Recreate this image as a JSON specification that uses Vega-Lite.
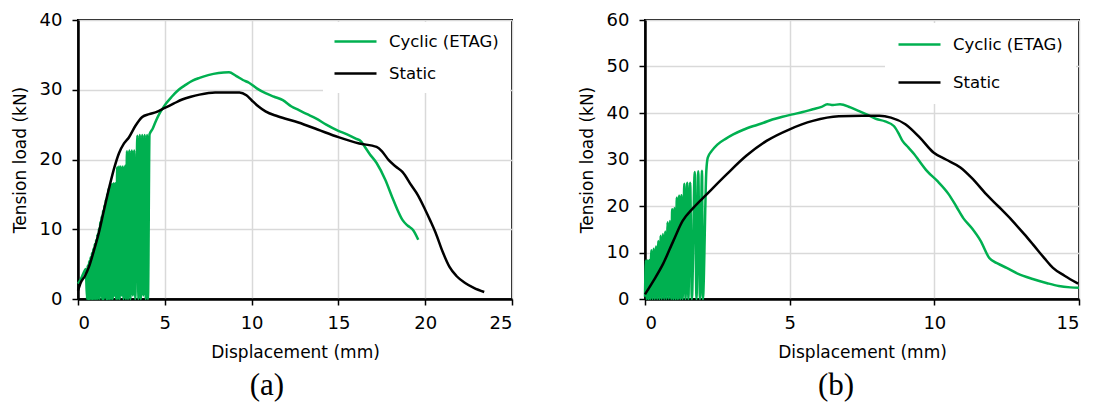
{
  "$schema": "https://vega.github.io/schema/vega-lite/v6.json",
  "padding": {"left": 10, "top": 10, "right": 5, "bottom": 5},
  "spacing": 63,
  "config": {
    "font": "DejaVu Sans",
    "view": {"stroke": "black", "strokeWidth": 2},
    "axis": {"domainColor": "black", "domainWidth": 2.5, "tickColor": "black", "tickWidth": 1.5, "tickSize": 6, "gridColor": "#d9d9d9", "gridWidth": 1.5, "labelFont": "DejaVu Sans", "labelFontSize": 18, "labelColor": "black", "titleFont": "DejaVu Sans", "titleFontSize": 17, "titleFontWeight": "normal", "titleColor": "black"},
    "axisX": {"labelPadding": 9, "titlePadding": 12},
    "axisY": {"labelPadding": 10, "titlePadding": 10},
    "title": {"font": "Liberation Serif", "fontSize": 31, "fontWeight": "normal", "orient": "bottom", "offset": 11, "dx": 5, "color": "black", "frame": "bounds"},
    "legend": {"title": null, "orient": "top-right", "fillColor": "white", "symbolType": "M-3,0H3", "symbolSize": 196, "symbolOffset": 13, "symbolStrokeWidth": 2.5, "labelFont": "DejaVu Sans", "labelFontSize": 16.5, "labelColor": "black", "labelOffset": 25}
  },
  "resolve": {"scale": {"color": "independent", "x": "independent", "y": "independent"}, "legend": {"color": "independent"}},
  "datasets": {
    "a": [
      {"s": "Cyclic (ETAG)", "x": 0, "y": 2.2}, {"s": "Cyclic (ETAG)", "x": 0.15, "y": 2.8}, {"s": "Cyclic (ETAG)", "x": 0.3, "y": 3.6}, {"s": "Cyclic (ETAG)", "x": 0.45, "y": 4.3},
      {"s": "Cyclic (ETAG)", "x": 0.52, "y": 0}, {"s": "Cyclic (ETAG)", "x": 0.56, "y": 4.8}, {"s": "Cyclic (ETAG)", "x": 0.6, "y": 0}, {"s": "Cyclic (ETAG)", "x": 0.64, "y": 5.4},
      {"s": "Cyclic (ETAG)", "x": 0.68, "y": 0}, {"s": "Cyclic (ETAG)", "x": 0.72, "y": 6.0}, {"s": "Cyclic (ETAG)", "x": 0.76, "y": 0}, {"s": "Cyclic (ETAG)", "x": 0.8, "y": 6.6},
      {"s": "Cyclic (ETAG)", "x": 0.84, "y": 0}, {"s": "Cyclic (ETAG)", "x": 0.88, "y": 7.2}, {"s": "Cyclic (ETAG)", "x": 0.92, "y": 0}, {"s": "Cyclic (ETAG)", "x": 0.96, "y": 7.9},
      {"s": "Cyclic (ETAG)", "x": 1.0, "y": 0}, {"s": "Cyclic (ETAG)", "x": 1.04, "y": 8.5}, {"s": "Cyclic (ETAG)", "x": 1.08, "y": 0}, {"s": "Cyclic (ETAG)", "x": 1.12, "y": 9.3},
      {"s": "Cyclic (ETAG)", "x": 1.16, "y": 0}, {"s": "Cyclic (ETAG)", "x": 1.2, "y": 10.1}, {"s": "Cyclic (ETAG)", "x": 1.24, "y": 0}, {"s": "Cyclic (ETAG)", "x": 1.28, "y": 11.0},
      {"s": "Cyclic (ETAG)", "x": 1.32, "y": 0.5}, {"s": "Cyclic (ETAG)", "x": 1.36, "y": 11.8}, {"s": "Cyclic (ETAG)", "x": 1.4, "y": 0}, {"s": "Cyclic (ETAG)", "x": 1.44, "y": 12.6},
      {"s": "Cyclic (ETAG)", "x": 1.48, "y": 0}, {"s": "Cyclic (ETAG)", "x": 1.52, "y": 13.4}, {"s": "Cyclic (ETAG)", "x": 1.56, "y": 0.3}, {"s": "Cyclic (ETAG)", "x": 1.6, "y": 14.2},
      {"s": "Cyclic (ETAG)", "x": 1.64, "y": 0}, {"s": "Cyclic (ETAG)", "x": 1.68, "y": 15.0}, {"s": "Cyclic (ETAG)", "x": 1.72, "y": 0}, {"s": "Cyclic (ETAG)", "x": 1.76, "y": 15.8},
      {"s": "Cyclic (ETAG)", "x": 1.8, "y": 0}, {"s": "Cyclic (ETAG)", "x": 1.86, "y": 16.5}, {"s": "Cyclic (ETAG)", "x": 1.9, "y": 0}, {"s": "Cyclic (ETAG)", "x": 1.96, "y": 16.5},
      {"s": "Cyclic (ETAG)", "x": 2.0, "y": 0}, {"s": "Cyclic (ETAG)", "x": 2.06, "y": 16.6}, {"s": "Cyclic (ETAG)", "x": 2.1, "y": 0.5}, {"s": "Cyclic (ETAG)", "x": 2.16, "y": 16.6},
      {"s": "Cyclic (ETAG)", "x": 2.2, "y": 0}, {"s": "Cyclic (ETAG)", "x": 2.26, "y": 18.9}, {"s": "Cyclic (ETAG)", "x": 2.3, "y": 0}, {"s": "Cyclic (ETAG)", "x": 2.36, "y": 19.0},
      {"s": "Cyclic (ETAG)", "x": 2.4, "y": 0}, {"s": "Cyclic (ETAG)", "x": 2.46, "y": 19.0}, {"s": "Cyclic (ETAG)", "x": 2.52, "y": 0.5}, {"s": "Cyclic (ETAG)", "x": 2.58, "y": 19.0},
      {"s": "Cyclic (ETAG)", "x": 2.62, "y": 0}, {"s": "Cyclic (ETAG)", "x": 2.72, "y": 19.1}, {"s": "Cyclic (ETAG)", "x": 2.76, "y": 0}, {"s": "Cyclic (ETAG)", "x": 2.82, "y": 21.2},
      {"s": "Cyclic (ETAG)", "x": 2.88, "y": 0}, {"s": "Cyclic (ETAG)", "x": 2.96, "y": 21.3}, {"s": "Cyclic (ETAG)", "x": 3.02, "y": 0}, {"s": "Cyclic (ETAG)", "x": 3.1, "y": 21.3},
      {"s": "Cyclic (ETAG)", "x": 3.16, "y": 0.5}, {"s": "Cyclic (ETAG)", "x": 3.24, "y": 21.3}, {"s": "Cyclic (ETAG)", "x": 3.3, "y": 0}, {"s": "Cyclic (ETAG)", "x": 3.42, "y": 23.4},
      {"s": "Cyclic (ETAG)", "x": 3.48, "y": 0}, {"s": "Cyclic (ETAG)", "x": 3.56, "y": 23.5}, {"s": "Cyclic (ETAG)", "x": 3.62, "y": 0}, {"s": "Cyclic (ETAG)", "x": 3.7, "y": 23.5},
      {"s": "Cyclic (ETAG)", "x": 3.76, "y": 0.5}, {"s": "Cyclic (ETAG)", "x": 3.84, "y": 23.5}, {"s": "Cyclic (ETAG)", "x": 3.9, "y": 0}, {"s": "Cyclic (ETAG)", "x": 3.98, "y": 23.5},
      {"s": "Cyclic (ETAG)", "x": 4.03, "y": 0}, {"s": "Cyclic (ETAG)", "x": 4.12, "y": 23.6}, {"s": "Cyclic (ETAG)", "x": 4.3, "y": 24.4}, {"s": "Cyclic (ETAG)", "x": 4.5, "y": 25.6},
      {"s": "Cyclic (ETAG)", "x": 4.7, "y": 26.6}, {"s": "Cyclic (ETAG)", "x": 5.0, "y": 27.8}, {"s": "Cyclic (ETAG)", "x": 5.4, "y": 29.0}, {"s": "Cyclic (ETAG)", "x": 5.8, "y": 30.0},
      {"s": "Cyclic (ETAG)", "x": 6.2, "y": 30.7}, {"s": "Cyclic (ETAG)", "x": 6.6, "y": 31.3}, {"s": "Cyclic (ETAG)", "x": 7.0, "y": 31.7}, {"s": "Cyclic (ETAG)", "x": 7.5, "y": 32.1},
      {"s": "Cyclic (ETAG)", "x": 8.1, "y": 32.4}, {"s": "Cyclic (ETAG)", "x": 8.7, "y": 32.5}, {"s": "Cyclic (ETAG)", "x": 9.1, "y": 32.0}, {"s": "Cyclic (ETAG)", "x": 9.5, "y": 31.4},
      {"s": "Cyclic (ETAG)", "x": 9.85, "y": 31.0}, {"s": "Cyclic (ETAG)", "x": 10.3, "y": 30.2}, {"s": "Cyclic (ETAG)", "x": 10.8, "y": 29.5}, {"s": "Cyclic (ETAG)", "x": 11.3, "y": 29.0},
      {"s": "Cyclic (ETAG)", "x": 11.8, "y": 28.5}, {"s": "Cyclic (ETAG)", "x": 12.3, "y": 27.6}, {"s": "Cyclic (ETAG)", "x": 12.7, "y": 27.1}, {"s": "Cyclic (ETAG)", "x": 13.2, "y": 26.5},
      {"s": "Cyclic (ETAG)", "x": 13.7, "y": 25.9}, {"s": "Cyclic (ETAG)", "x": 14.3, "y": 25.0}, {"s": "Cyclic (ETAG)", "x": 15.0, "y": 24.1}, {"s": "Cyclic (ETAG)", "x": 15.5, "y": 23.6},
      {"s": "Cyclic (ETAG)", "x": 16.0, "y": 23.0}, {"s": "Cyclic (ETAG)", "x": 16.3, "y": 22.6}, {"s": "Cyclic (ETAG)", "x": 16.5, "y": 21.9}, {"s": "Cyclic (ETAG)", "x": 16.8, "y": 20.8},
      {"s": "Cyclic (ETAG)", "x": 17.2, "y": 19.5}, {"s": "Cyclic (ETAG)", "x": 17.7, "y": 17.1}, {"s": "Cyclic (ETAG)", "x": 18.1, "y": 14.6}, {"s": "Cyclic (ETAG)", "x": 18.4, "y": 12.8},
      {"s": "Cyclic (ETAG)", "x": 18.7, "y": 11.3}, {"s": "Cyclic (ETAG)", "x": 19.0, "y": 10.5}, {"s": "Cyclic (ETAG)", "x": 19.3, "y": 9.9}, {"s": "Cyclic (ETAG)", "x": 19.6, "y": 8.5},
      {"s": "Static", "x": 0, "y": 1.2}, {"s": "Static", "x": 0.15, "y": 2.3}, {"s": "Static", "x": 0.4, "y": 3.3}, {"s": "Static", "x": 0.63, "y": 4.6},
      {"s": "Static", "x": 0.9, "y": 6.8}, {"s": "Static", "x": 1.2, "y": 9.5}, {"s": "Static", "x": 1.5, "y": 12.8}, {"s": "Static", "x": 1.8, "y": 16.0},
      {"s": "Static", "x": 2.1, "y": 18.9}, {"s": "Static", "x": 2.36, "y": 20.9}, {"s": "Static", "x": 2.65, "y": 22.3}, {"s": "Static", "x": 2.94, "y": 23.2},
      {"s": "Static", "x": 3.3, "y": 24.8}, {"s": "Static", "x": 3.7, "y": 26.1}, {"s": "Static", "x": 4.1, "y": 26.5}, {"s": "Static", "x": 4.5, "y": 26.8},
      {"s": "Static", "x": 5.0, "y": 27.4}, {"s": "Static", "x": 5.5, "y": 28.0}, {"s": "Static", "x": 6.0, "y": 28.6}, {"s": "Static", "x": 6.5, "y": 29.0},
      {"s": "Static", "x": 7.0, "y": 29.3}, {"s": "Static", "x": 7.9, "y": 29.6}, {"s": "Static", "x": 8.6, "y": 29.6}, {"s": "Static", "x": 9.3, "y": 29.6},
      {"s": "Static", "x": 9.7, "y": 29.2}, {"s": "Static", "x": 10.0, "y": 28.5}, {"s": "Static", "x": 10.4, "y": 27.6}, {"s": "Static", "x": 10.8, "y": 26.9},
      {"s": "Static", "x": 11.5, "y": 26.2}, {"s": "Static", "x": 12.7, "y": 25.3}, {"s": "Static", "x": 13.8, "y": 24.3}, {"s": "Static", "x": 15.0, "y": 23.2},
      {"s": "Static", "x": 16.2, "y": 22.3}, {"s": "Static", "x": 17.2, "y": 21.8}, {"s": "Static", "x": 17.5, "y": 21.2}, {"s": "Static", "x": 17.9, "y": 19.9},
      {"s": "Static", "x": 18.3, "y": 19.0}, {"s": "Static", "x": 18.7, "y": 18.2}, {"s": "Static", "x": 19.2, "y": 16.3}, {"s": "Static", "x": 19.6, "y": 14.8},
      {"s": "Static", "x": 20.0, "y": 12.8}, {"s": "Static", "x": 20.3, "y": 11.2}, {"s": "Static", "x": 20.6, "y": 9.5}, {"s": "Static", "x": 21.0, "y": 6.8},
      {"s": "Static", "x": 21.4, "y": 4.6}, {"s": "Static", "x": 21.8, "y": 3.3}, {"s": "Static", "x": 22.3, "y": 2.3}, {"s": "Static", "x": 22.8, "y": 1.6},
      {"s": "Static", "x": 23.4, "y": 1.0}
    ],
    "b": [
      {"s": "Cyclic (ETAG)", "x": 0, "y": 0.5}, {"s": "Cyclic (ETAG)", "x": 0.03, "y": 8.3}, {"s": "Cyclic (ETAG)", "x": 0.06, "y": 0}, {"s": "Cyclic (ETAG)", "x": 0.09, "y": 8.3},
      {"s": "Cyclic (ETAG)", "x": 0.12, "y": 0}, {"s": "Cyclic (ETAG)", "x": 0.15, "y": 8.4}, {"s": "Cyclic (ETAG)", "x": 0.18, "y": 0}, {"s": "Cyclic (ETAG)", "x": 0.22, "y": 10.5},
      {"s": "Cyclic (ETAG)", "x": 0.26, "y": 0}, {"s": "Cyclic (ETAG)", "x": 0.3, "y": 10.8}, {"s": "Cyclic (ETAG)", "x": 0.34, "y": 0}, {"s": "Cyclic (ETAG)", "x": 0.38, "y": 11.3},
      {"s": "Cyclic (ETAG)", "x": 0.42, "y": 0}, {"s": "Cyclic (ETAG)", "x": 0.46, "y": 12.5}, {"s": "Cyclic (ETAG)", "x": 0.5, "y": 0}, {"s": "Cyclic (ETAG)", "x": 0.54, "y": 13.6},
      {"s": "Cyclic (ETAG)", "x": 0.58, "y": 0}, {"s": "Cyclic (ETAG)", "x": 0.62, "y": 14.0}, {"s": "Cyclic (ETAG)", "x": 0.66, "y": 0}, {"s": "Cyclic (ETAG)", "x": 0.7, "y": 14.5},
      {"s": "Cyclic (ETAG)", "x": 0.74, "y": 0}, {"s": "Cyclic (ETAG)", "x": 0.78, "y": 16.5}, {"s": "Cyclic (ETAG)", "x": 0.82, "y": 0}, {"s": "Cyclic (ETAG)", "x": 0.86, "y": 16.8},
      {"s": "Cyclic (ETAG)", "x": 0.9, "y": 0}, {"s": "Cyclic (ETAG)", "x": 0.94, "y": 19.3}, {"s": "Cyclic (ETAG)", "x": 0.98, "y": 0}, {"s": "Cyclic (ETAG)", "x": 1.02, "y": 19.5},
      {"s": "Cyclic (ETAG)", "x": 1.06, "y": 0}, {"s": "Cyclic (ETAG)", "x": 1.1, "y": 21.8}, {"s": "Cyclic (ETAG)", "x": 1.14, "y": 0}, {"s": "Cyclic (ETAG)", "x": 1.18, "y": 22.2},
      {"s": "Cyclic (ETAG)", "x": 1.22, "y": 0}, {"s": "Cyclic (ETAG)", "x": 1.26, "y": 22.3}, {"s": "Cyclic (ETAG)", "x": 1.3, "y": 0}, {"s": "Cyclic (ETAG)", "x": 1.36, "y": 24.8},
      {"s": "Cyclic (ETAG)", "x": 1.4, "y": 0}, {"s": "Cyclic (ETAG)", "x": 1.46, "y": 25.0}, {"s": "Cyclic (ETAG)", "x": 1.5, "y": 0}, {"s": "Cyclic (ETAG)", "x": 1.56, "y": 25.0},
      {"s": "Cyclic (ETAG)", "x": 1.62, "y": 0}, {"s": "Cyclic (ETAG)", "x": 1.72, "y": 27.3}, {"s": "Cyclic (ETAG)", "x": 1.78, "y": 0}, {"s": "Cyclic (ETAG)", "x": 1.84, "y": 27.5},
      {"s": "Cyclic (ETAG)", "x": 1.9, "y": 0}, {"s": "Cyclic (ETAG)", "x": 1.97, "y": 27.6}, {"s": "Cyclic (ETAG)", "x": 2.0, "y": 0}, {"s": "Cyclic (ETAG)", "x": 2.12, "y": 27.6},
      {"s": "Cyclic (ETAG)", "x": 2.17, "y": 30.4}, {"s": "Cyclic (ETAG)", "x": 2.3, "y": 31.8}, {"s": "Cyclic (ETAG)", "x": 2.5, "y": 33.2}, {"s": "Cyclic (ETAG)", "x": 2.8, "y": 34.5},
      {"s": "Cyclic (ETAG)", "x": 3.05, "y": 35.4}, {"s": "Cyclic (ETAG)", "x": 3.4, "y": 36.4}, {"s": "Cyclic (ETAG)", "x": 3.75, "y": 37.2}, {"s": "Cyclic (ETAG)", "x": 4.1, "y": 37.9},
      {"s": "Cyclic (ETAG)", "x": 4.4, "y": 38.6}, {"s": "Cyclic (ETAG)", "x": 4.75, "y": 39.2}, {"s": "Cyclic (ETAG)", "x": 5.1, "y": 39.7}, {"s": "Cyclic (ETAG)", "x": 5.45, "y": 40.2},
      {"s": "Cyclic (ETAG)", "x": 5.8, "y": 40.8}, {"s": "Cyclic (ETAG)", "x": 6.1, "y": 41.3}, {"s": "Cyclic (ETAG)", "x": 6.3, "y": 41.9}, {"s": "Cyclic (ETAG)", "x": 6.5, "y": 41.7},
      {"s": "Cyclic (ETAG)", "x": 6.74, "y": 41.9}, {"s": "Cyclic (ETAG)", "x": 7.1, "y": 41.2}, {"s": "Cyclic (ETAG)", "x": 7.4, "y": 40.4}, {"s": "Cyclic (ETAG)", "x": 7.7, "y": 39.6},
      {"s": "Cyclic (ETAG)", "x": 8.0, "y": 38.7}, {"s": "Cyclic (ETAG)", "x": 8.3, "y": 38.2}, {"s": "Cyclic (ETAG)", "x": 8.6, "y": 37.2}, {"s": "Cyclic (ETAG)", "x": 8.75, "y": 35.8},
      {"s": "Cyclic (ETAG)", "x": 8.9, "y": 34.0}, {"s": "Cyclic (ETAG)", "x": 9.1, "y": 32.6}, {"s": "Cyclic (ETAG)", "x": 9.3, "y": 31.2}, {"s": "Cyclic (ETAG)", "x": 9.5, "y": 29.5},
      {"s": "Cyclic (ETAG)", "x": 9.75, "y": 27.5}, {"s": "Cyclic (ETAG)", "x": 10.1, "y": 25.4}, {"s": "Cyclic (ETAG)", "x": 10.5, "y": 22.5}, {"s": "Cyclic (ETAG)", "x": 10.75, "y": 20.0},
      {"s": "Cyclic (ETAG)", "x": 11.0, "y": 17.4}, {"s": "Cyclic (ETAG)", "x": 11.3, "y": 15.2}, {"s": "Cyclic (ETAG)", "x": 11.6, "y": 12.5}, {"s": "Cyclic (ETAG)", "x": 11.9, "y": 8.8},
      {"s": "Cyclic (ETAG)", "x": 12.2, "y": 7.6}, {"s": "Cyclic (ETAG)", "x": 12.5, "y": 6.7}, {"s": "Cyclic (ETAG)", "x": 12.9, "y": 5.4}, {"s": "Cyclic (ETAG)", "x": 13.4, "y": 4.3},
      {"s": "Cyclic (ETAG)", "x": 13.9, "y": 3.4}, {"s": "Cyclic (ETAG)", "x": 14.3, "y": 2.8}, {"s": "Cyclic (ETAG)", "x": 14.7, "y": 2.5}, {"s": "Cyclic (ETAG)", "x": 15.0, "y": 2.4},
      {"s": "Static", "x": 0, "y": 1.0}, {"s": "Static", "x": 0.29, "y": 3.9}, {"s": "Static", "x": 0.62, "y": 7.5}, {"s": "Static", "x": 0.98, "y": 12.5},
      {"s": "Static", "x": 1.3, "y": 16.8}, {"s": "Static", "x": 1.67, "y": 19.6}, {"s": "Static", "x": 2.13, "y": 22.5}, {"s": "Static", "x": 2.82, "y": 26.8},
      {"s": "Static", "x": 3.5, "y": 30.8}, {"s": "Static", "x": 4.2, "y": 34.0}, {"s": "Static", "x": 5.0, "y": 36.5}, {"s": "Static", "x": 5.8, "y": 38.3},
      {"s": "Static", "x": 6.7, "y": 39.3}, {"s": "Static", "x": 7.5, "y": 39.4}, {"s": "Static", "x": 8.1, "y": 39.4}, {"s": "Static", "x": 8.5, "y": 39.0},
      {"s": "Static", "x": 9.0, "y": 37.6}, {"s": "Static", "x": 9.5, "y": 34.7}, {"s": "Static", "x": 9.97, "y": 31.5}, {"s": "Static", "x": 10.4, "y": 30.0},
      {"s": "Static", "x": 10.9, "y": 28.3}, {"s": "Static", "x": 11.3, "y": 26.0}, {"s": "Static", "x": 11.8, "y": 22.5}, {"s": "Static", "x": 12.2, "y": 20.0},
      {"s": "Static", "x": 12.7, "y": 16.8}, {"s": "Static", "x": 13.1, "y": 14.0}, {"s": "Static", "x": 13.4, "y": 11.8}, {"s": "Static", "x": 13.8, "y": 8.8},
      {"s": "Static", "x": 14.1, "y": 6.7}, {"s": "Static", "x": 14.5, "y": 5.0}, {"s": "Static", "x": 14.97, "y": 3.3}
    ]
  },
  "hconcat": [
    {
      "title": {"text": "(a)"},
      "data": {"name": "a"},
      "width": 434,
      "height": 279,
      "mark": {"type": "line", "strokeWidth": 2.5, "interpolate": "monotone"},
      "encoding": {
        "x": {"field": "x", "type": "quantitative", "scale": {"domain": [0, 25], "nice": false}, "axis": {"values": [0, 5, 10, 15, 20, 25], "title": "Displacement (mm)"}},
        "y": {"field": "y", "type": "quantitative", "scale": {"domain": [0, 40], "nice": false}, "axis": {"values": [0, 10, 20, 30, 40], "title": "Tension load (kN)"}},
        "color": {"field": "s", "type": "nominal", "scale": {"domain": ["Cyclic (ETAG)", "Static"], "range": ["#00b050", "#000000"]}, "legend": {"rowPadding": 15, "padding": 11, "offset": 2}}
      }
    },
    {
      "title": {"text": "(b)"},
      "data": {"name": "b"},
      "width": 434,
      "height": 279,
      "mark": {"type": "line", "strokeWidth": 2.5, "interpolate": "monotone"},
      "encoding": {
        "x": {"field": "x", "type": "quantitative", "scale": {"domain": [0, 15], "nice": false}, "axis": {"values": [0, 5, 10, 15], "title": "Displacement (mm)"}},
        "y": {"field": "y", "type": "quantitative", "scale": {"domain": [0, 60], "nice": false}, "axis": {"values": [0, 10, 20, 30, 40, 50, 60], "title": "Tension load (kN)"}},
        "color": {"field": "s", "type": "nominal", "scale": {"domain": ["Cyclic (ETAG)", "Static"], "range": ["#00b050", "#000000"]}, "legend": {"rowPadding": 21, "padding": 13, "offset": 3}}
      }
    }
  ]
}
